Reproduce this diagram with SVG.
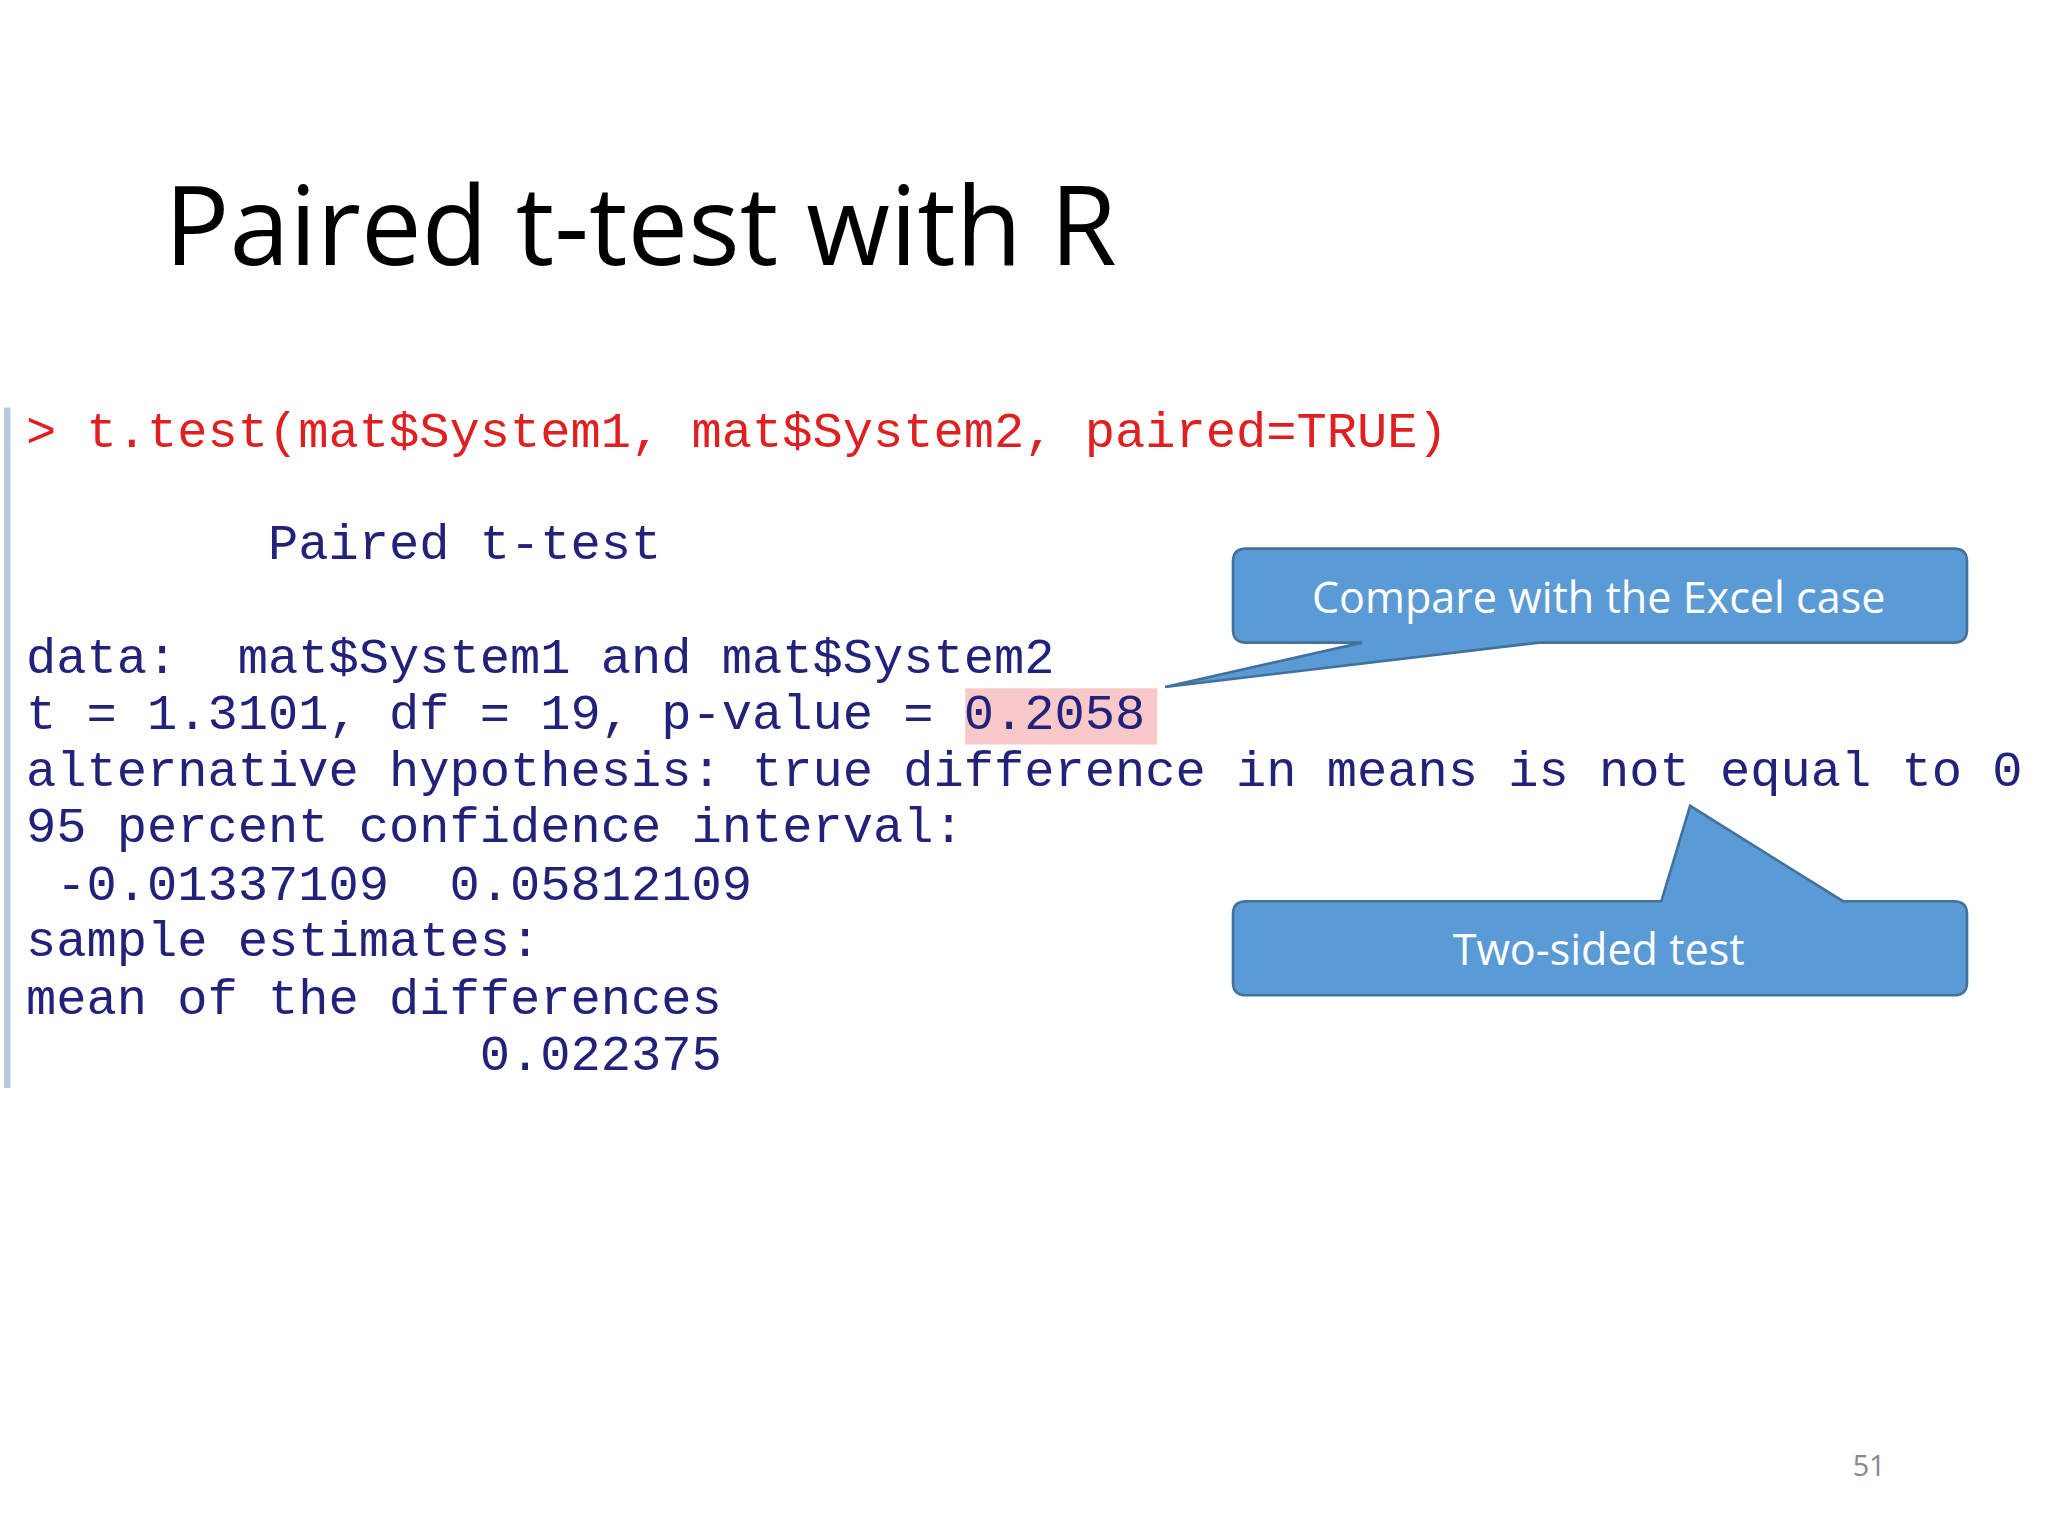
<svg xmlns="http://www.w3.org/2000/svg" width="2048" height="1536" viewBox="0 0 2048 1536">
<style>
.code{font-family:"Liberation Mono","Courier New",monospace;font-size:38.6px;fill:#22227a;white-space:pre}
.call{fill:#5b9bd5;stroke:#41719c;stroke-width:2}
.ct{font-family:"Open Sans","Liberation Sans",sans-serif;font-size:33px;fill:#fff;text-anchor:middle}
</style>
<rect width="2048" height="1536" fill="#fff"/>
<g transform="scale(1.30612)">
<text x="126" y="203" font-family="Open Sans, Liberation Sans, sans-serif" font-size="84" fill="#000" textLength="729" lengthAdjust="spacingAndGlyphs">Paired t-test with R</text>
<rect x="3" y="312" width="5" height="521" fill="#b8c8e0"/>
<rect x="739" y="527" width="147" height="43" fill="#f9c9c9"/>
<g id="code">
<text class="code" x="20" y="342" style="fill:#e02020">&gt; t.test(mat$System1, mat$System2, paired=TRUE)</text>
<text class="code" x="20" y="428">        Paired t-test</text>
<text class="code" x="20" y="515">data:  mat$System1 and mat$System2</text>
<text class="code" x="20" y="558">t = 1.3101, df = 19, p-value = 0.2058</text>
<text class="code" x="20" y="602">alternative hypothesis: true difference in means is not equal to 0</text>
<text class="code" x="20" y="645">95 percent confidence interval:</text>
<text class="code" x="20" y="689"> -0.01337109  0.05812109</text>
<text class="code" x="20" y="732">sample estimates:</text>
<text class="code" x="20" y="776">mean of the differences</text>
<text class="code" x="20" y="819">               0.022375</text>
</g>
<g id="callout1">
<path class="call" d="M954,420 H1496 Q1506,420 1506,430 V482 Q1506,492 1496,492 H1178 L892,526 L1043,492 H954 Q944,492 944,482 V430 Q944,420 954,420 Z"/>
<text class="ct" x="1224" y="469">Compare with the Excel case</text>
</g>
<g id="callout2">
<path class="call" d="M954,690 H1272 L1294,617 L1411,690 H1496 Q1506,690 1506,700 V752 Q1506,762 1496,762 H954 Q944,762 944,752 V700 Q944,690 954,690 Z"/>
<text class="ct" x="1224" y="739">Two-sided test</text>
</g>
<text x="1431" y="1130" font-family="Open Sans, Liberation Sans, sans-serif" font-size="22" fill="#888" text-anchor="middle">51</text>
</g>
</svg>
